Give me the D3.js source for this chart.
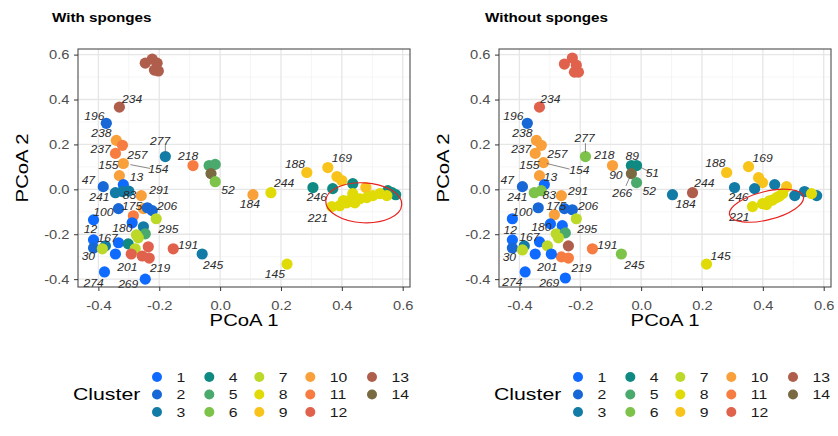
<!DOCTYPE html>
<html><head><meta charset="utf-8">
<script src="https://cdn.jsdelivr.net/npm/d3@7"></script>
<style>body{margin:0;background:#fff}svg{display:block}</style>
</head><body><div id="chart"></div>
<script>
// ---------------- data ----------------
const clusterNames = ["1","2","3","4","5","6","7","8","9","10","11","12","13","14"];
const clusterColors = ["#0f6bff","#1768d6","#137ca6","#0e8a82","#4aa96c","#7dc34a","#bcd92a",
                       "#e0db06","#f8c31a","#f9a03a","#f77c42","#e1624c","#b05e4c","#7a6a42"];
const xTicks = [-0.4,-0.2,0,0.2,0.4,0.6];
const yTicks = [-0.4,-0.2,0,0.2,0.4,0.6];
const xMinor = [-0.3,-0.1,0.1,0.3,0.5];
const yMinor = [-0.3,-0.1,0.1,0.3,0.5];
const panelTitles = ["With sponges","Without sponges"];

// With sponges
const withX = [-0.246,-0.223,-0.207,-0.216,-0.203,-0.331,-0.374,-0.341,-0.321,-0.344,-0.318,-0.331,-0.384,-0.318,
  -0.344,-0.321,-0.300,-0.259,-0.252,-0.334,-0.239,-0.223,-0.210,-0.285,-0.416,-0.289,-0.252,-0.246,-0.275,-0.269,
  -0.416,-0.377,-0.416,-0.387,-0.334,-0.302,-0.279,-0.344,-0.292,-0.256,-0.236,-0.233,-0.154,-0.059,-0.380,-0.246,
  -0.089,-0.180,-0.036,-0.016,-0.030,-0.016,0.108,0.167,0.285,0.354,0.384,0.400,0.305,0.370,0.436,0.479,0.551,0.577,0.565,
  0.367,0.393,0.416,0.443,0.436,0.459,0.482,0.502,0.525,0.548,0.430,0.405,0.220];
const withY = [0.562,0.580,0.562,0.531,0.527,0.366,0.294,0.218,0.196,0.160,0.115,0.061,0.012,0.021,
  -0.015,-0.010,-0.008,-0.028,-0.086,-0.086,-0.082,-0.095,-0.131,-0.118,-0.136,-0.149,-0.167,-0.198,-0.203,-0.216,
  -0.225,-0.252,-0.261,-0.265,-0.238,-0.243,-0.265,-0.288,-0.288,-0.297,-0.256,-0.306,-0.265,-0.288,-0.368,-0.400,
  0.106,0.146,0.106,0.111,0.070,0.034,-0.024,-0.015,0.075,0.097,0.057,0.039,0.008,0.003,0.025,0.008,-0.006,-0.024,-0.015,
  -0.077,-0.073,-0.060,-0.060,-0.019,-0.042,-0.037,-0.028,-0.019,-0.028,-0.045,-0.050,-0.333];
const withCluster = [13,13,13,13,13,13,2,10,11,11,10,10,2,1,
  3,3,3,10,10,2,2,2,7,11,1,1,3,5,7,7,
  1,3,2,7,1,4,7,1,12,12,12,12,12,3,1,1,
  11,3,5,5,14,6,10,8,9,9,9,9,4,4,4,9,4,4,4,
  8,8,8,8,8,8,8,8,8,8,8,8,8];
const withLabelText = ["234","196","238","237","257","155","154","13","47","241","83","291","175","206","100","180",
  "295","12","167","30","201","219","191","245","274","269","218","277","52","184","244","188","169","246","221","145"];
const withLabelX = [-0.289,-0.413,-0.390,-0.393,-0.272,-0.367,-0.203,-0.275,-0.433,-0.397,-0.298,-0.200,-0.289,-0.174,-0.384,-0.321,
  -0.170,-0.426,-0.370,-0.433,-0.305,-0.197,-0.105,-0.023,-0.416,-0.302,-0.105,-0.197,0.026,0.098,0.210,0.246,0.400,0.318,0.321,0.180];
const withLabelY = [0.401,0.325,0.249,0.178,0.151,0.106,0.088,0.052,0.039,-0.033,-0.028,-0.006,-0.077,-0.073,-0.104,-0.172,
  -0.176,-0.176,-0.216,-0.297,-0.346,-0.350,-0.247,-0.337,-0.417,-0.422,0.146,0.213,-0.006,-0.064,0.026,0.111,0.137,-0.037,-0.127,-0.377];
const withLeaders = [[-0.295,0.110,-0.230,0.093],[-0.180,0.165,-0.180,0.197]];
const withEllipse = [0.472,-0.060,0.125,0.089,3];

// Without sponges
const withoutX = [-0.252,-0.226,-0.213,-0.219,-0.206,-0.334,-0.374,-0.344,-0.328,-0.348,-0.321,-0.334,-0.183,-0.094,
  -0.032,-0.015,-0.032,-0.015,0.103,0.169,-0.390,-0.318,-0.351,-0.328,-0.262,-0.338,-0.252,-0.226,-0.285,-0.213,
  -0.423,-0.298,-0.259,-0.279,-0.249,-0.272,-0.423,-0.384,-0.423,-0.390,-0.334,-0.308,-0.239,-0.262,-0.239,-0.348,
  -0.295,-0.160,-0.065,-0.381,-0.249,0.281,0.353,0.386,0.399,0.307,0.373,0.439,0.478,0.505,0.537,0.577,
  0.366,0.399,0.422,0.445,0.465,0.412,0.432,0.455,0.560,0.215];
const withoutY = [0.558,0.585,0.553,0.522,0.522,0.366,0.294,0.218,0.196,0.160,0.119,0.061,0.146,0.106,
  0.106,0.106,0.070,0.030,-0.024,-0.015,0.012,0.021,-0.015,-0.006,-0.028,-0.082,-0.086,-0.091,-0.113,-0.131,
  -0.131,-0.154,-0.162,-0.198,-0.194,-0.216,-0.225,-0.252,-0.261,-0.270,-0.234,-0.252,-0.252,-0.301,-0.306,-0.288,
  -0.288,-0.265,-0.288,-0.368,-0.395,0.075,0.101,0.052,0.030,0.008,0.003,0.021,0.012,-0.028,-0.010,-0.028,
  -0.077,-0.064,-0.051,-0.037,-0.019,-0.068,-0.048,-0.030,-0.019,-0.333];
const withoutCluster = [12,12,12,12,12,12,2,10,10,10,10,10,6,10,
  4,4,14,5,3,13,2,1,6,6,10,2,2,2,10,7,
  1,1,1,7,5,7,1,3,2,7,1,7,13,11,11,1,
  1,11,6,1,1,9,9,9,9,3,3,3,9,3,3,3,
  8,8,8,8,8,8,8,8,8,8];
const withoutLabelText = ["234","196","238","237","257","155","154","13","277","218","89","90","51","266","52","47","241","83",
  "291","175","206","100","180","295","12","167","30","191","245","201","219","274","269","184","244","188","169","246","221","145"];
const withoutLabelX = [-0.298,-0.420,-0.390,-0.394,-0.275,-0.367,-0.203,-0.298,-0.186,-0.121,-0.029,-0.083,0.037,-0.062,0.027,-0.440,-0.407,-0.302,
  -0.207,-0.279,-0.174,-0.390,-0.328,-0.177,-0.430,-0.367,-0.433,-0.111,-0.022,-0.308,-0.196,-0.423,-0.302,0.146,0.208,0.244,0.399,0.320,0.323,0.261];
const withoutLabelY = [0.401,0.325,0.249,0.178,0.156,0.106,0.084,0.052,0.227,0.151,0.146,0.061,0.070,-0.015,-0.010,0.039,-0.037,-0.028,
  -0.010,-0.073,-0.077,-0.104,-0.167,-0.176,-0.180,-0.212,-0.301,-0.247,-0.337,-0.346,-0.350,-0.413,-0.417,-0.068,0.026,0.115,0.137,-0.037,-0.122,-0.297];
const withoutLeaders = [[-0.310,0.115,-0.235,0.090],[-0.183,0.165,-0.183,0.205],[0.000,0.097,0.026,0.079],[-0.050,0.015,-0.036,0.058]];
const withoutEllipse = [0.412,-0.073,0.125,0.063,-14];

// ---------------- drawing ----------------
const W = 838, H = 436;
const FONT = "'Liberation Sans', Arial, Helvetica, sans-serif";
const svg = d3.select("#chart").append("svg").attr("width", W).attr("height", H)
  .style("font-family", FONT);
svg.append("rect").attr("width", W).attr("height", H).attr("fill", "#fff");

const color = d3.scaleOrdinal().domain(clusterNames).range(clusterColors);

function stext(g, x, y, str, size, sx, opts = {}) {
  return g.append("text")
    .attr("transform", `translate(${x},${y}) scale(${sx},1)`)
    .attr("font-size", size)
    .attr("text-anchor", opts.anchor || "start")
    .attr("dominant-baseline", opts.baseline || "auto")
    .attr("font-weight", opts.weight || "normal")
    .attr("font-style", opts.style || "normal")
    .attr("fill", opts.fill || "#000")
    .text(str);
}

const panels = [
  {left: 78, right: 410, title: panelTitles[0], titleX: 52,
   xs: withX, ys: withY, cl: withCluster, lt: withLabelText, lx: withLabelX, ly: withLabelY,
   leaders: withLeaders, ell: withEllipse},
  {left: 499, right: 831, title: panelTitles[1], titleX: 485,
   xs: withoutX, ys: withoutY, cl: withoutCluster, lt: withoutLabelText, lx: withoutLabelX, ly: withoutLabelY,
   leaders: withoutLeaders, ell: withoutEllipse}
];
const pTop = 49, pBottom = 287;

panels.forEach(p => {
  const g = svg.append("g");
  const x = d3.scaleLinear().domain([-0.467, 0.624]).range([p.left, p.right]);
  const y = d3.scaleLinear().domain([-0.435, 0.625]).range([pBottom, pTop]);

  // grid
  const grid = g.append("g");
  xMinor.forEach(v => grid.append("line").attr("x1", x(v)).attr("x2", x(v)).attr("y1", pTop).attr("y2", pBottom)
    .attr("stroke", "#f3f3f3").attr("stroke-width", 0.8));
  yMinor.forEach(v => grid.append("line").attr("y1", y(v)).attr("y2", y(v)).attr("x1", p.left).attr("x2", p.right)
    .attr("stroke", "#f3f3f3").attr("stroke-width", 0.8));
  xTicks.forEach(v => grid.append("line").attr("x1", x(v)).attr("x2", x(v)).attr("y1", pTop).attr("y2", pBottom)
    .attr("stroke", "#e6e6e6").attr("stroke-width", 1.3));
  yTicks.forEach(v => grid.append("line").attr("y1", y(v)).attr("y2", y(v)).attr("x1", p.left).attr("x2", p.right)
    .attr("stroke", "#e6e6e6").attr("stroke-width", 1.3));

  // points
  g.append("g").selectAll("circle")
    .data(p.xs.map((v, i) => ({x: v, y: p.ys[i], c: String(p.cl[i])})))
    .join("circle")
    .attr("cx", d => x(d.x)).attr("cy", d => y(d.y)).attr("r", 5.6)
    .attr("fill", d => color(d.c));

  // leader lines
  p.leaders.forEach(l => g.append("line")
    .attr("x1", x(l[0])).attr("y1", y(l[1])).attr("x2", x(l[2])).attr("y2", y(l[3]))
    .attr("stroke", "#555").attr("stroke-width", 0.7));

  // point labels
  const lg = g.append("g");
  p.lt.forEach((t, i) => stext(lg, x(p.lx[i]), y(p.ly[i]), t, 11, 1.1,
    {anchor: "middle", baseline: "central", style: "italic", fill: "#2b2b2b"}));

  // ellipse
  const e = p.ell;
  const cx = x(e[0]), cy = y(e[1]);
  g.append("ellipse").attr("cx", cx).attr("cy", cy)
    .attr("rx", x(e[0] + e[2]) - cx).attr("ry", cy - y(e[1] + e[3]))
    .attr("transform", `rotate(${e[4]},${cx},${cy})`)
    .attr("fill", "none").attr("stroke", "#e8231f").attr("stroke-width", 1.2);

  // border
  g.append("rect").attr("x", p.left).attr("y", pTop).attr("width", p.right - p.left).attr("height", pBottom - pTop)
    .attr("fill", "none").attr("stroke", "#4d4d4d").attr("stroke-width", 1.1);

  // axes
  const fmt = d => d.toFixed(1);
  const ax = g.append("g").attr("transform", `translate(0,${pBottom})`)
    .call(d3.axisBottom(x).tickValues(xTicks).tickSize(4).tickFormat(fmt));
  ax.select(".domain").remove();
  ax.selectAll("line").attr("stroke", "#333");
  ax.selectAll("text").attr("y", 0).attr("transform", "translate(0,13.5) scale(1.13,1)")
    .attr("font-size", 13).attr("fill", "#4d4d4d").attr("font-family", FONT);

  const ay = g.append("g").attr("transform", `translate(${p.left},0)`)
    .call(d3.axisLeft(y).tickValues(yTicks).tickSize(4).tickFormat(fmt));
  ay.select(".domain").remove();
  ay.selectAll("line").attr("stroke", "#333");
  ay.selectAll("text").attr("x", 0).attr("transform", "translate(-8.5,0) scale(1.13,1)")
    .attr("font-size", 13).attr("fill", "#4d4d4d").attr("font-family", FONT);

  // axis titles
  stext(g, (p.left + p.right) / 2, 326, "PCoA 1", 16, 1.27, {anchor: "middle"});
  g.append("text")
    .attr("transform", `translate(${p.left - 56},${(pTop + pBottom) / 2}) rotate(-90) scale(1.27,1)`)
    .attr("font-size", 16).attr("text-anchor", "middle").attr("dy", "0.36em").text("PCoA 2");

  // panel title
  stext(g, p.titleX, 21.5, p.title, 13, 1.17, {weight: "bold"});

  // legend
  const leg = g.append("g");
  const lx0 = p.left - 5;
  stext(leg, lx0, 400, "Cluster", 17, 1.25);
  const colOff = [84, 136.3, 186.3, 237.3, 299];
  const rowY = [377, 394.5, 412];
  clusterNames.forEach((name, i) => {
    const col = Math.floor(i / 3), row = i % 3;
    const dx = lx0 + colOff[col];
    leg.append("circle").attr("cx", dx).attr("cy", rowY[row]).attr("r", 5)
      .attr("fill", color(name));
    stext(leg, dx + 19.5, rowY[row], name, 13.5, 1.17, {baseline: "central", fill: "#1a1a1a"});
  });
});
</script>
</body></html>
